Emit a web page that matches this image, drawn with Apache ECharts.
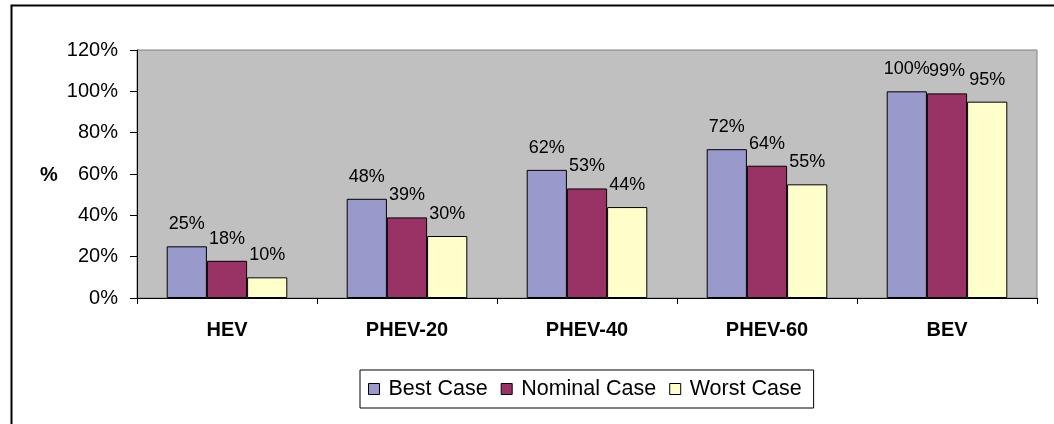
<!DOCTYPE html>
<html>
<head>
<meta charset="utf-8">
<script src="https://cdn.jsdelivr.net/npm/echarts@6/dist/echarts.min.js"></script>
<style>
  html, body { margin: 0; padding: 0; background: #fff; }
  #chart { width: 1054px; height: 424px; }
</style>
</head>
<body>
<div id="chart"></div>
<script>
var categories = ['HEV', 'PHEV-20', 'PHEV-40', 'PHEV-60', 'BEV'];
var bestCase = [25, 48, 62, 72, 100];
var nominalCase = [18, 39, 53, 64, 99];
var worstCase = [10, 30, 44, 55, 95];
var seriesNames = ['Best Case', 'Nominal Case', 'Worst Case'];

var font = 'Liberation Sans, Arial, sans-serif';

function barSeries (name, data, color) {
    return {
        name: name,
        type: 'bar',
        data: data,
        barGap: '0%',
        barCategoryGap: '33%',
        itemStyle: { color: color, borderColor: '#000', borderWidth: 1 },
        label: {
            show: true,
            position: 'top',
            distance: 13,
            formatter: '{c}%',
            color: '#000',
            fontFamily: font,
            fontSize: 18
        }
    }
}

var chart = echarts.init(document.getElementById('chart'))
chart.setOption({
    animation: false,
    backgroundColor: '#fff',
    textStyle: { fontFamily: font },
    grid: {
        left: 137,
        top: 50,
        width: 900,
        height: 248,
        show: true,
        backgroundColor: '#c0c0c0',
        borderColor: '#808080',
        borderWidth: 1
    },
    legend: {
        data: seriesNames,
        left: 360,
        top: 370,
        itemWidth: 11,
        itemHeight: 11,
        itemGap: 13,
        padding: [8, 12, 8, 8],
        borderColor: '#000',
        borderWidth: 1,
        icon: 'rect',
        itemStyle: { borderColor: '#000', borderWidth: 1 },
        textStyle: { fontSize: 21.5, color: '#000', padding: [0, 0, 0, 4] }
    },
    xAxis: {
        type: 'category',
        data: categories,
        axisLine: { lineStyle: { color: '#000' } },
        axisTick: { show: true, length: 6, lineStyle: { color: '#000' } },
        axisLabel: { color: '#000', fontWeight: 'bold', fontSize: 20, margin: 22 }
    },
    yAxis: {
        type: 'value',
        min: 0,
        max: 120,
        interval: 20,
        splitLine: { show: false },
        axisLine: { show: true, lineStyle: { color: '#000' } },
        axisTick: { show: true, length: 7, lineStyle: { color: '#000' } },
        axisLabel: { color: '#000', fontSize: 20, margin: 19, formatter: '{value}%' }
    },
    graphic: [
        {
            type: 'rect',
            left: 9,
            top: 3,
            shape: { width: 1100, height: 500 },
            style: { fill: 'none', stroke: '#000', lineWidth: 2 },
            silent: true
        },
        {
            type: 'text',
            left: 40,
            top: 165,
            style: { text: '%', fill: '#000', font: 'bold 20px ' + font }
        }
    ],
    series: [
        barSeries(seriesNames[0], bestCase, '#9999cc'),
        barSeries(seriesNames[1], nominalCase, '#993366'),
        barSeries(seriesNames[2], worstCase, '#ffffcc')
    ]
})
</script>
</body>
</html>
